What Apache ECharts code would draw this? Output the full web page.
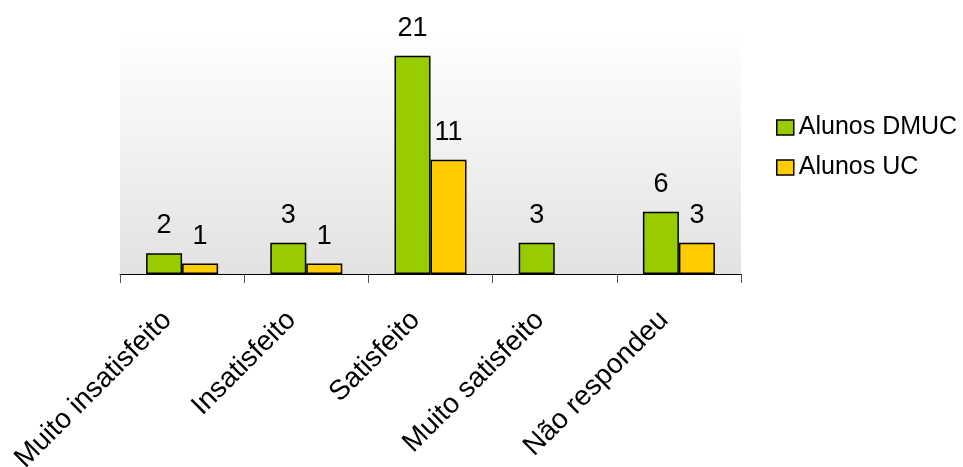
<!DOCTYPE html>
<html>
<head>
<meta charset="utf-8">
<script src="https://cdn.jsdelivr.net/npm/echarts@6/dist/echarts.min.js"></script>
<style>html,body{margin:0;padding:0;background:#fff}#c{width:963px;height:467px}</style>
</head>
<body>
<div id="c"></div>
<script>
const categories = ["Muito insatisfeito", "Insatisfeito", "Satisfeito", "Muito satisfeito", "Não respondeu"];
const seriesNames = ["Alunos DMUC", "Alunos UC"];
const alunosDMUC = [2, 3, 21, 3, 6];
const alunosUC = [1, 1, 11, null, 3];

const FONT = "Liberation Sans, Arial, sans-serif";
const chart = echarts.init(document.getElementById('c'), null, {renderer: 'canvas'});
const barStyle = (color) => ({color: color, borderColor: '#000', borderWidth: 1.5});
const lbl = {show: true, position: 'top', distance: 14, color: '#000', fontSize: 27, fontFamily: FONT};
chart.setOption({
  animation: false,
  backgroundColor: '#fff',
  textStyle: {fontFamily: FONT},
  grid: {
    left: 120, right: 222, top: 33, bottom: 193, show: true, borderWidth: 0,
    containLabel: false, outerBoundsMode: 'none',
    backgroundColor: {type: 'linear', x: 0, y: 0, x2: 0, y2: 1,
      colorStops: [{offset: 0, color: '#ffffff'}, {offset: 1, color: '#e2e2e2'}]}
  },
  legend: {
    orient: 'vertical', left: 771, top: 110, itemGap: 15,
    itemWidth: 17, itemHeight: 15, itemTextGap: 5,
    textStyle: {fontSize: 25, color: '#000', fontFamily: FONT},
    data: [
      {name: seriesNames[0], icon: 'rect', itemStyle: barStyle('#99CC00')},
      {name: seriesNames[1], icon: 'rect', itemStyle: barStyle('#FFCC00')}
    ]
  },
  xAxis: {
    type: 'category', data: categories, boundaryGap: true,
    axisLine: {show: true, lineStyle: {color: '#000', width: 1}},
    axisTick: {show: true, length: 9, lineStyle: {color: '#555'}},
    axisLabel: {rotate: 45, interval: 0, margin: 27, padding: [0, 21, 0, 0],
      fontSize: 28, color: '#000', fontFamily: FONT}
  },
  yAxis: {type: 'value', min: 0, max: 23.2, show: false, splitLine: {show: false}},
  series: [
    {name: seriesNames[0], type: 'bar', data: alunosDMUC, barWidth: 36, barGap: '0%',
      itemStyle: barStyle('#99CC00'), label: lbl},
    {name: seriesNames[1], type: 'bar', data: alunosUC, barWidth: 36, barGap: '0%',
      itemStyle: barStyle('#FFCC00'), label: lbl}
  ]
});
</script>
</body>
</html>
